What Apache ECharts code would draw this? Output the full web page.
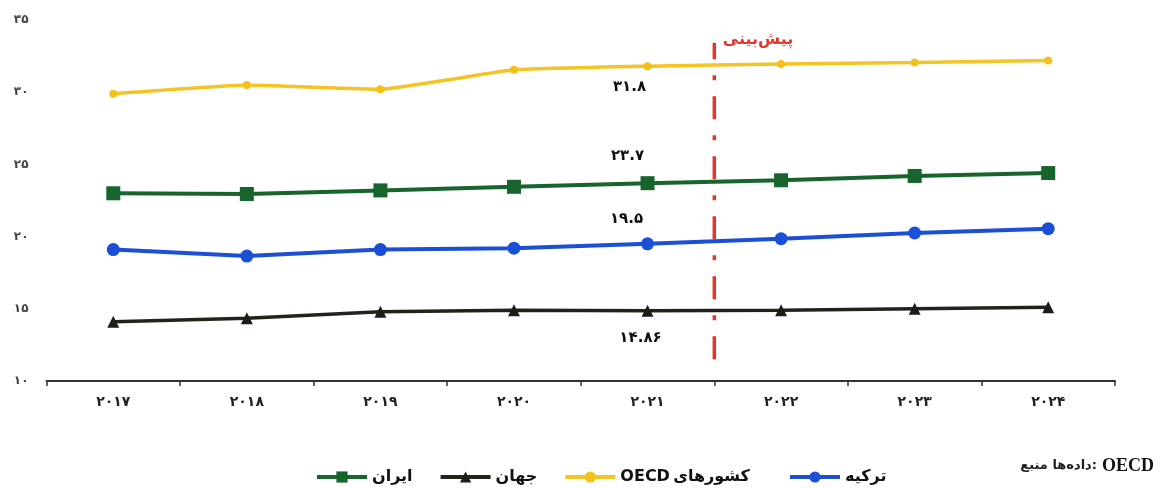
<!DOCTYPE html>
<html>
<head>
<meta charset="utf-8">
<script src="https://cdn.jsdelivr.net/npm/echarts@6/dist/echarts.min.js"></script>
<style>
  html, body { margin: 0; padding: 0; background: #fff; }
  #chart { width: 1167px; height: 488px; }
</style>
</head>
<body>
<div id="chart"></div>
<script>
// Years on the category axis
const years = ['۲۰۱۷', '۲۰۱۸', '۲۰۱۹', '۲۰۲۰', '۲۰۲۱', '۲۰۲۲', '۲۰۲۳', '۲۰۲۴'];

// Series values
const iran   = [23.0, 22.95, 23.2, 23.45, 23.7, 23.9, 24.2, 24.4];
const world  = [14.1, 14.35, 14.8, 14.9, 14.86, 14.9, 15.0, 15.1];
const oecd   = [29.9, 30.5, 30.2, 31.55, 31.8, 31.95, 32.05, 32.2];
const turkey = [19.1, 18.65, 19.1, 19.2, 19.5, 19.85, 20.25, 20.55];

// Value labels are written on the 2021 point of each line
const labelYearIndex = 4;

// Forecast divider: halfway between 2021 and 2022, spanning this value range
const forecastAt = 4.5;
const forecastSpan = [11.5, 33.4];
const forecastText = 'پیش‌بینی';

const faDigits = '۰۱۲۳۴۵۶۷۸۹';
const toFa = v => String(v).replace(/\d/g, d => faDigits[d]);

const FONT = 'DejaVu Sans';

function withLabel(values, labelOpts) {
  return values.map((v, i) => i === labelYearIndex
    ? { value: v, label: Object.assign({
        show: true,
        formatter: p => toFa(p.value),
        fontFamily: FONT, fontWeight: 'bold', fontSize: 15, color: '#111'
      }, labelOpts) }
    : v);
}

const chart = echarts.init(document.getElementById('chart'));

chart.setOption({
  animation: false,
  backgroundColor: '#fff',
  grid: { left: 46.5, right: 52, top: 20, bottom: 107 },
  title: {
    right: 8, top: 452,
    // the LRM keeps the two Persian words in left-to-right word order
    text: '{a|منبع\u200E داده‌ها:} {o|OECD}',
    textStyle: {
      rich: {
        a: { fontFamily: FONT, fontSize: 13, color: '#222' },
        o: { fontFamily: 'Liberation Serif', fontSize: 18, color: '#111' }
      }
    }
  },
  legend: [
    {
      data: ['ایران', 'جهان', 'کشورهای OECD'],
      left: 310, top: 464,
      itemWidth: 50, itemHeight: 14, itemGap: 26,
      lineStyle: { width: 4 },
      formatter: name => name === 'کشورهای OECD' ? '{t|OECD} {u|کشورهای}' : '{t|' + name + '}',
      textStyle: { rich: {
        t: { fontFamily: FONT, fontWeight: 'bold', fontSize: 16, color: '#111' },
        u: { fontFamily: FONT, fontWeight: 'bold', fontSize: 16, color: '#111' }
      } }
    },
    {
      data: ['ترکیه'],
      left: 783, top: 464,
      itemWidth: 50, itemHeight: 14,
      lineStyle: { width: 4 },
      textStyle: { fontFamily: FONT, fontWeight: 'bold', fontSize: 16, color: '#111' }
    }
  ],
  xAxis: [
    {
      type: 'category',
      data: years,
      boundaryGap: true,
      axisLine: { show: true, lineStyle: { color: '#333', width: 2 } },
      axisTick: { show: true, length: 5, interval: 0, lineStyle: { color: '#333', width: 1.5 } },
      axisLabel: { interval: 0, margin: 14, fontFamily: FONT, fontWeight: 'bold', fontSize: 14, color: '#222' },
      splitLine: { show: false }
    },
    {
      type: 'value', show: false, min: -0.5, max: 7.5
    }
  ],
  yAxis: {
    type: 'value', min: 10, max: 35, interval: 5,
    axisLine: { show: false }, axisTick: { show: false }, splitLine: { show: false },
    axisLabel: { margin: 18, fontFamily: FONT, fontWeight: 'bold', fontSize: 12, color: '#444', formatter: v => toFa(v) }
  },
  series: [
    {
      name: 'forecast', type: 'line', xAxisIndex: 1,
      data: [
        [forecastAt, forecastSpan[0]],
        { value: [forecastAt, forecastSpan[1]], label: {
            show: true, position: 'right', distance: 8, offset: [0, -3],
            formatter: forecastText, fontFamily: FONT, fontWeight: 'bold', fontSize: 16, color: '#e8352b'
        } }
      ],
      symbol: 'circle', symbolSize: 1,
      itemStyle: { color: '#e8352b' },
      lineStyle: { color: '#e8352b', width: 3.5, type: [23, 16, 5, 16] },
      silent: true, z: 1
    },
    {
      name: 'ایران', type: 'line',
      data: withLabel(iran, { position: 'top', offset: [-20, -8] }),
      symbol: 'rect', symbolSize: 14,
      itemStyle: { color: '#17652c' },
      lineStyle: { color: '#17652c', width: 4 }, z: 3
    },
    {
      name: 'جهان', type: 'line',
      data: withLabel(world, { position: 'bottom', offset: [-7, 9] }),
      symbol: 'triangle', symbolSize: 12,
      itemStyle: { color: '#1a1e16' },
      lineStyle: { color: '#1f241b', width: 3.5 }, z: 3
    },
    {
      name: 'کشورهای OECD', type: 'line',
      data: withLabel(oecd, { position: 'bottom', offset: [-18, 4] }),
      symbol: 'circle', symbolSize: 8, smooth: 0.1,
      itemStyle: { color: '#f3c11d' },
      lineStyle: { color: '#f4c422', width: 3.5 }, z: 3
    },
    {
      name: 'ترکیه', type: 'line',
      data: withLabel(turkey, { position: 'top', offset: [-21, -6] }),
      symbol: 'circle', symbolSize: 13,
      itemStyle: { color: '#1b4fd6' },
      lineStyle: { color: '#1b4fd6', width: 4 }, z: 3
    }
  ]
});
</script>
</body>
</html>
